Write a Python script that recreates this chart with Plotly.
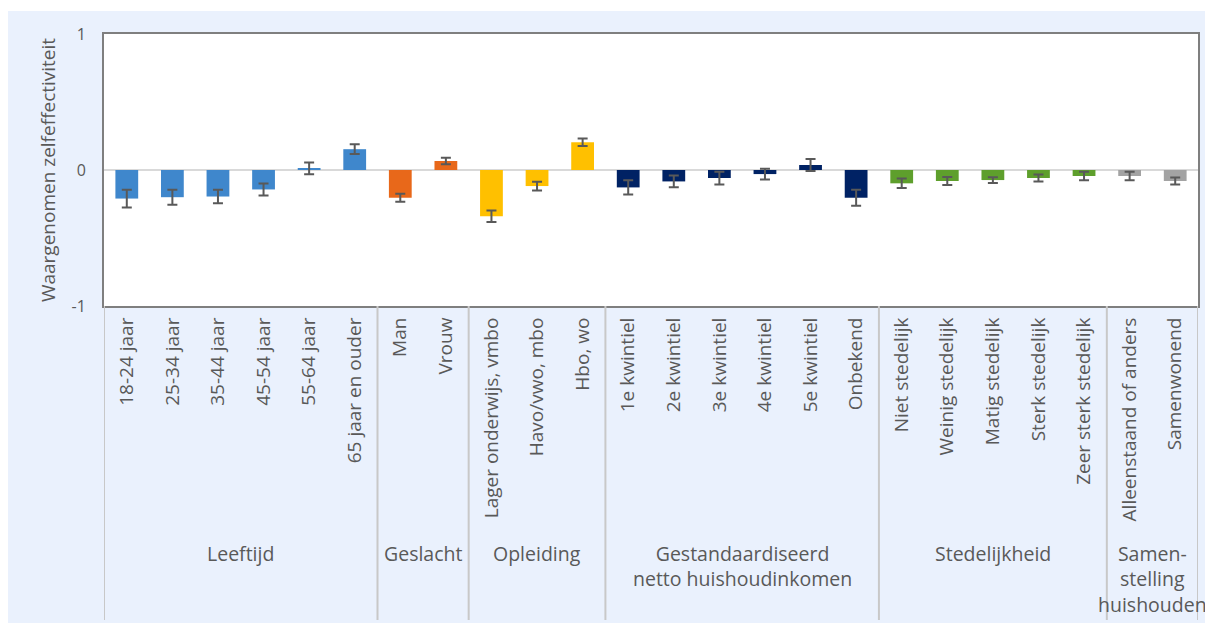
import plotly.graph_objects as go

categories = ["18-24 jaar", "25-34 jaar", "35-44 jaar", "45-54 jaar", "55-64 jaar", "65 jaar en ouder",
              "Man", "Vrouw",
              "Lager onderwijs, vmbo", "Havo/vwo, mbo", "Hbo, wo",
              "1e kwintiel", "2e kwintiel", "3e kwintiel", "4e kwintiel", "5e kwintiel", "Onbekend",
              "Niet stedelijk", "Weinig stedelijk", "Matig stedelijk", "Sterk stedelijk", "Zeer sterk stedelijk",
              "Alleenstaand of anders", "Samenwonend"]
values = [-0.21, -0.20, -0.195, -0.143, 0.012, 0.153,
          -0.204, 0.066,
          -0.34, -0.118, 0.204,
          -0.128, -0.084, -0.059, -0.030, 0.037, -0.204,
          -0.098, -0.081, -0.074, -0.059, -0.044,
          -0.044, -0.081]
errors = [0.065, 0.055, 0.05, 0.044, 0.043, 0.036,
          0.03, 0.024,
          0.043, 0.032, 0.028,
          0.052, 0.043, 0.047, 0.04, 0.044, 0.059,
          0.035, 0.03, 0.021, 0.025, 0.031,
          0.032, 0.025]
groups = ["Leeftijd", "Geslacht", "Opleiding", "Gestandaardiseerd<br>netto huishoudinkomen",
          "Stedelijkheid", "Samen-<br>stelling<br>huishouden"]
group_sizes = [6, 2, 3, 6, 5, 2]
group_colors = ["#3F87CC", "#E8681A", "#FFC000", "#002264", "#5E9F2C", "#A3A3A3"]

colors = []
for c, n in zip(group_colors, group_sizes):
    colors += [c] * n

x = list(range(len(categories)))

fig = go.Figure()
fig.add_trace(go.Bar(
    x=x, y=values, width=0.5,
    marker=dict(color=colors, line=dict(width=0)),
    error_y=dict(type="data", array=errors, visible=True, color="#595959", thickness=2, width=5),
    showlegend=False, hoverinfo="skip",
))

# page has an 8px body margin; figure coords = page coords - 8
OFF = 8
W, H = 1213 - OFF, 623 - OFF
L = 104 - OFF
T = 34 - OFF
R = W - (1198 - OFF)
B = H - (306 - OFF)
pw, ph = W - L - R, H - T - B

def px2paper_x(px):
    return (px - OFF - L) / pw

def px2paper_y(py):
    return (H - B - (py - OFF)) / ph

shapes = [
    dict(type="rect", xref="paper", yref="paper", layer="below",
         x0=px2paper_x(8), x1=px2paper_x(1213), y0=px2paper_y(623), y1=px2paper_y(11),
         fillcolor="#EAF1FD", line=dict(width=0)),
    dict(type="rect", xref="paper", yref="paper", layer="below",
         x0=0, x1=1, y0=0, y1=1, fillcolor="white", line=dict(width=0)),
]

bounds = [-0.5]
acc = -0.5
for n in group_sizes:
    acc += n
    bounds.append(acc)
for b in bounds:
    shapes.append(dict(type="line", xref="x", yref="paper", x0=b, x1=b,
                       y0=0, y1=px2paper_y(620), line=dict(color="#C8C8C8", width=2)))

annotations = []
for g, lo, hi in zip(groups, bounds[:-1], bounds[1:]):
    annotations.append(dict(text=g, x=(lo + hi) / 2, xref="x", y=px2paper_y(538), yref="paper",
                            xanchor="center", yanchor="top", showarrow=False,
                            font=dict(size=19.5, color="#595959", family="Open Sans"),
                            align="center"))

fig.update_layout(
    width=W, height=H,
    margin=dict(l=L, r=R, t=T, b=B, autoexpand=False),
    paper_bgcolor="white", plot_bgcolor="white",
    shapes=shapes, annotations=annotations,
    font=dict(family="Open Sans", color="#595959"),
    bargap=0.5,
)
fig.update_xaxes(range=[-0.5, len(categories) - 0.5], tickvals=x, ticktext=categories,
                 tickangle=-90, ticks="", showgrid=False, zeroline=False, automargin=False,
                 showline=True, mirror=True, linecolor="#7F7F7F", linewidth=2,
                 ticklabelstandoff=2,
                 tickfont=dict(size=19, color="#595959", family="Open Sans"))
fig.update_yaxes(range=[-1, 1], tickvals=[-1, 0, 1], ticktext=["-1", "0", "1"],
                 showgrid=False, zeroline=True, zerolinecolor="#D9D9D9", zerolinewidth=2,
                 showline=True, mirror=True, linecolor="#7F7F7F", linewidth=2, automargin=False,
                 ticks="", ticklabelstandoff=13,
                 tickfont=dict(size=16, color="#595959", family="Open Sans"),
                 title=dict(text="Waargenomen zelfeffectiviteit", standoff=11,
                            font=dict(size=19, color="#595959", family="Open Sans")))

fig.write_html("out.html")
